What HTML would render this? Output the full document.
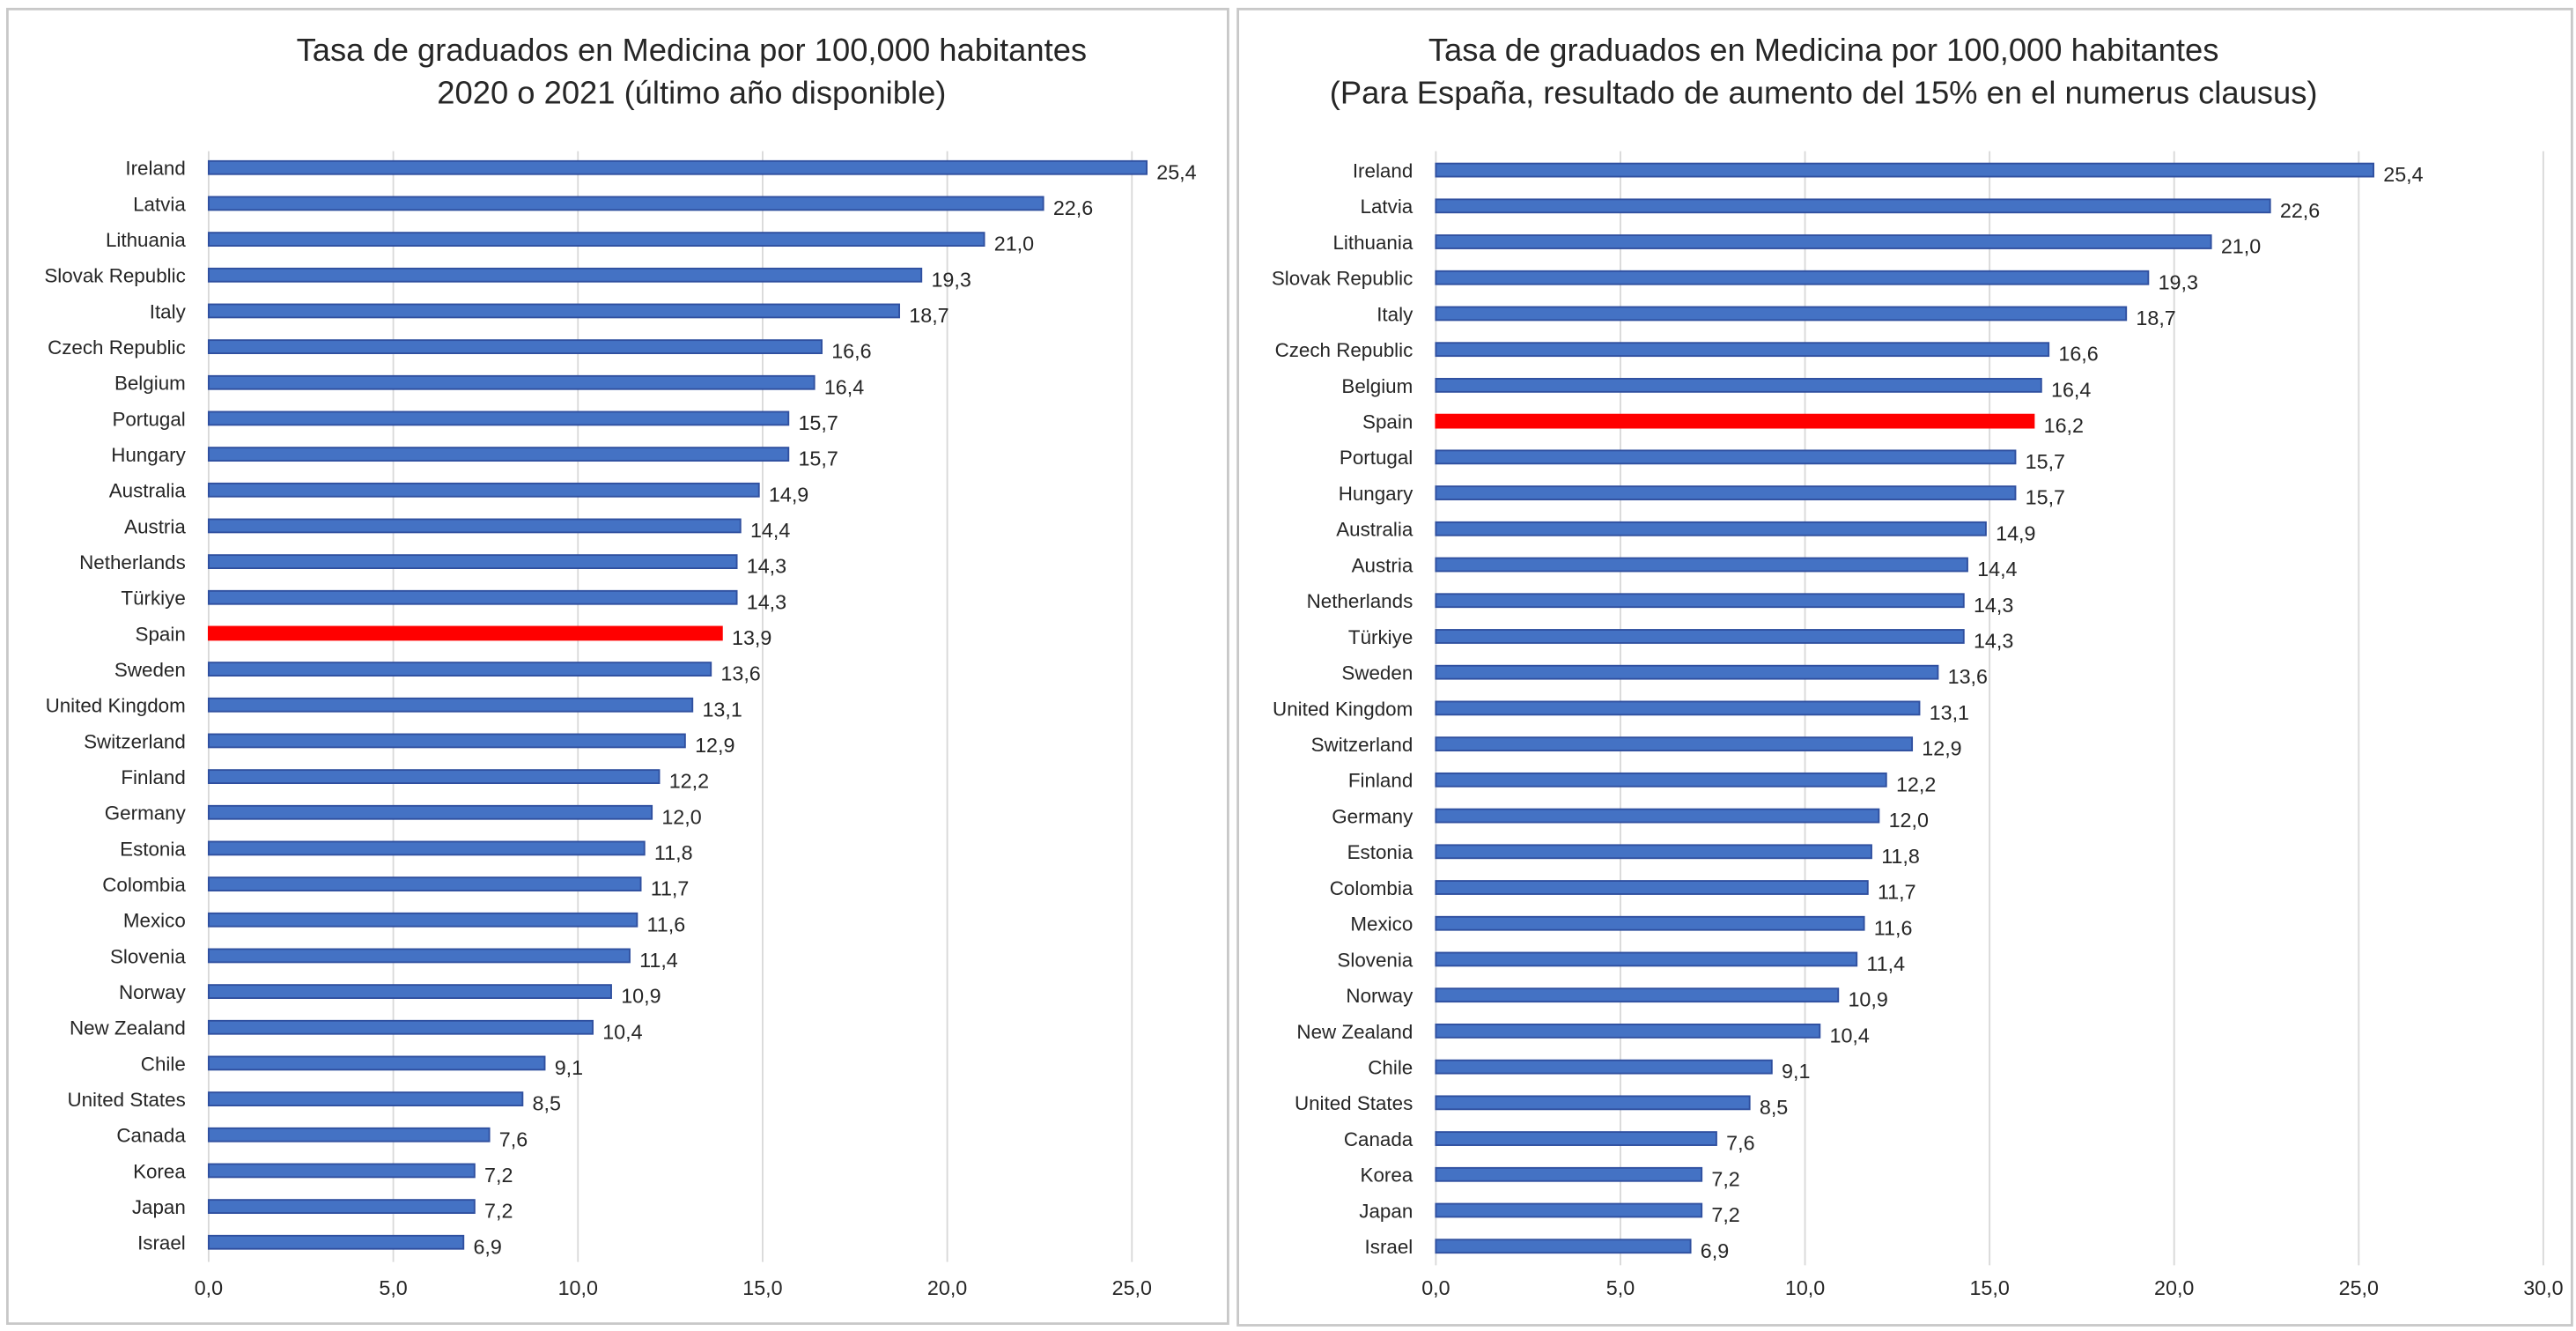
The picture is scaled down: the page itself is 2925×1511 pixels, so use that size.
<!DOCTYPE html>
<html><head><meta charset="utf-8">
<style>
html,body{margin:0;padding:0;background:#fff;overflow:hidden}
svg{display:block}
text{font-family:"Liberation Sans Narrow","Liberation Sans",sans-serif;fill:#262626}
</style></head>
<body>
<svg id="root" width="2925" height="1511" viewBox="0 0 1568 810" preserveAspectRatio="none" xmlns="http://www.w3.org/2000/svg">
<rect x="0" y="0" width="1568" height="810" fill="#fff"/>
<rect x="4.5" y="5.5" width="743" height="800" fill="#fff" stroke="#c8c8c8" stroke-width="1.5"/>
<rect x="753.5" y="5.5" width="812" height="801" fill="#fff" stroke="#c8c8c8" stroke-width="1.5"/>
<g id="left"></g>
<g id="right"></g>
</svg>
<script>
const NS="http://www.w3.org/2000/svg";
const leftCountries=["Ireland","Latvia","Lithuania","Slovak Republic","Italy","Czech Republic","Belgium","Portugal","Hungary","Australia","Austria","Netherlands","Türkiye","Spain","Sweden","United Kingdom","Switzerland","Finland","Germany","Estonia","Colombia","Mexico","Slovenia","Norway","New Zealand","Chile","United States","Canada","Korea","Japan","Israel"];
const leftValues=[25.4,22.6,21.0,19.3,18.7,16.6,16.4,15.7,15.7,14.9,14.4,14.3,14.3,13.9,13.6,13.1,12.9,12.2,12.0,11.8,11.7,11.6,11.4,10.9,10.4,9.1,8.5,7.6,7.2,7.2,6.9];
const rightCountries=["Ireland","Latvia","Lithuania","Slovak Republic","Italy","Czech Republic","Belgium","Spain","Portugal","Hungary","Australia","Austria","Netherlands","Türkiye","Sweden","United Kingdom","Switzerland","Finland","Germany","Estonia","Colombia","Mexico","Slovenia","Norway","New Zealand","Chile","United States","Canada","Korea","Japan","Israel"];
const rightValues=[25.4,22.6,21.0,19.3,18.7,16.6,16.4,16.2,15.7,15.7,14.9,14.4,14.3,14.3,13.6,13.1,12.9,12.2,12.0,11.8,11.7,11.6,11.4,10.9,10.4,9.1,8.5,7.6,7.2,7.2,6.9];
const leftTicks=[0,5,10,15,20,25];
const rightTicks=[0,5,10,15,20,25,30];
const leftTitle=["Tasa de graduados en Medicina por 100,000 habitantes","2020 o 2021 (último año disponible)"];
const rightTitle=["Tasa de graduados en Medicina por 100,000 habitantes","(Para España, resultado de aumento del 15% en el numerus clausus)"];
const fmt=v=>v.toFixed(1).replace('.',',');
function mk(tag,attrs,parent){const e=document.createElementNS(NS,tag);for(const k in attrs)e.setAttribute(k,attrs[k]);parent.appendChild(e);return e;}
function draw(g,cfg,countries,values,ticks,title){
  const x=v=>cfg.x0+v*cfg.k;
  const y=i=>cfg.y0+i*cfg.step;
  title.forEach((t,i)=>{const e=mk('text',{x:cfg.tx,y:37+i*26,'text-anchor':'middle','font-size':19.5},g);
    
    
    e.textContent=t;});
  ticks.forEach(t=>{
    const l=mk('line',{x1:x(t),x2:x(t),y1:92,y2:cfg.gb,stroke:'#d9d9d9','stroke-width':1},g);
    
    
    const e=mk('text',{x:x(t),y:788,'text-anchor':'middle','font-size':12.5},g);
    
    
    e.textContent=fmt(t);
  });
  countries.forEach((c,i)=>{
    const yy=y(i);const v=values[i];const sp=c==="Spain";
    const r=mk('rect',{x:x(0),y:yy-4,width:v*cfg.k,height:8,fill:sp?'#ff0000':'#4472c4',stroke:sp?'#ff0000':'#2f4f9f','stroke-width':1},g);
    
    
    const lb=mk('text',{x:x(0)-14,y:yy+4.5,'text-anchor':'end','font-size':12},g);
    
    
    lb.textContent=c;
    const vl=mk('text',{x:x(v)+6,y:yy+7,'font-size':12.5},g);
    
    
    vl.textContent=fmt(v);
  });
}
draw(document.getElementById('left'),{x0:127,k:22.48,y0:102,step:21.8,tx:421,gb:768},leftCountries,leftValues,leftTicks,leftTitle);
draw(document.getElementById('right'),{x0:874,k:22.47,y0:103.5,step:21.83,tx:1110,gb:770},rightCountries,rightValues,rightTicks,rightTitle);
</script>
</body></html>
